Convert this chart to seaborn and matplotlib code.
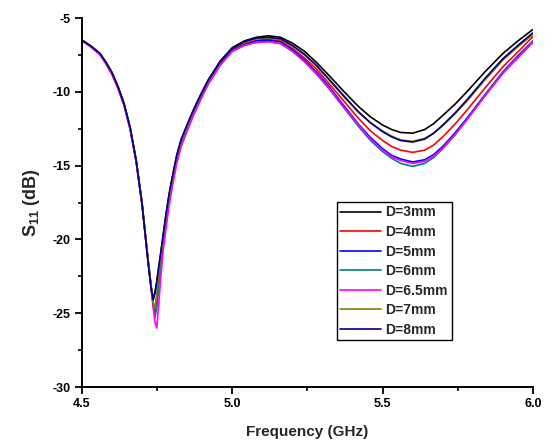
import numpy as np
import pandas as pd
import matplotlib
matplotlib.use("Agg")
import matplotlib.pyplot as plt
import seaborn as sns
from matplotlib.ticker import MultipleLocator

freq = [4.50, 4.53, 4.56, 4.58, 4.60, 4.62, 4.64, 4.66, 4.68,
        4.70, 4.71, 4.72, 4.73, 4.737, 4.743, 4.749, 4.755, 4.762,
        4.77, 4.78, 4.79, 4.80, 4.815, 4.83, 4.85, 4.87, 4.89,
        4.92, 4.96, 5.00, 5.04, 5.08, 5.12, 5.16, 5.20, 5.24,
        5.28, 5.32, 5.37, 5.42, 5.46, 5.50, 5.53, 5.56, 5.60,
        5.64, 5.67, 5.70, 5.74, 5.78, 5.84, 5.90, 5.95, 6.00]

s11_3mm = [-6.5, -6.9, -7.4, -8.0, -8.7, -9.65, -10.8, -12.4, -14.6,
           -17.6, -19.6, -21.5, -23.2, -24.0, -23.6, -22.9, -22.0, -21.0,
           -19.8, -18.3, -17.0, -15.9, -14.4, -13.3, -12.3, -11.3, -10.4,
           -9.2, -7.9, -7.0, -6.55, -6.3, -6.2, -6.3, -6.7, -7.25,
           -8.0, -8.85, -9.95, -11.0, -11.7, -12.25, -12.55, -12.75, -12.8,
           -12.55, -12.15, -11.6, -10.85, -10.0, -8.65, -7.4, -6.55, -5.77]
s11_4mm = [-6.5, -6.92, -7.45, -8.05, -8.75, -9.7, -10.85, -12.45, -14.65,
           -17.6, -19.5, -21.4, -23.2, -24.4, -25.1, -24.4, -23.0, -21.6,
           -20.2, -18.7, -17.3, -16.2, -14.6, -13.5, -12.45, -11.45, -10.55,
           -9.35, -8.05, -7.15, -6.75, -6.5, -6.45, -6.55, -7.05, -7.7,
           -8.45, -9.4, -10.6, -11.8, -12.65, -13.3, -13.7, -13.95, -14.1,
           -13.95, -13.6, -13.05, -12.2, -11.25, -9.75, -8.3, -7.3, -6.25]
s11_5mm = [-6.5, -6.92, -7.45, -8.05, -8.75, -9.7, -10.85, -12.45, -14.65,
           -17.6, -19.5, -21.4, -23.2, -24.3, -24.8, -24.0, -22.8, -21.5,
           -20.1, -18.6, -17.2, -16.1, -14.6, -13.5, -12.45, -11.5, -10.6,
           -9.4, -8.1, -7.2, -6.8, -6.55, -6.5, -6.62, -7.15, -7.85,
           -8.65, -9.6, -10.9, -12.2, -13.1, -13.85, -14.3, -14.55, -14.75,
           -14.6, -14.25, -13.7, -12.8, -11.8, -10.2, -8.65, -7.55, -6.55]
s11_6mm = [-6.5, -6.92, -7.45, -8.05, -8.75, -9.7, -10.85, -12.45, -14.65,
           -17.6, -19.5, -21.4, -23.2, -24.5, -25.3, -24.6, -23.2, -21.8,
           -20.3, -18.8, -17.4, -16.25, -14.7, -13.6, -12.55, -11.55, -10.65,
           -9.45, -8.15, -7.25, -6.85, -6.65, -6.6, -6.72, -7.25, -7.95,
           -8.8, -9.75, -11.05, -12.35, -13.3, -14.05, -14.5, -14.85, -15.05,
           -14.85, -14.45, -13.85, -12.95, -11.9, -10.25, -8.7, -7.6, -6.55]
s11_65mm = [-6.55, -6.97, -7.5, -8.12, -8.85, -9.8, -10.95, -12.55, -14.75,
            -17.7, -19.6, -21.5, -23.3, -24.6, -25.6, -26.0, -24.5, -22.6,
            -20.8, -19.2, -17.7, -16.5, -14.9, -13.7, -12.65, -11.65, -10.75,
            -9.5, -8.2, -7.25, -6.85, -6.65, -6.6, -6.72, -7.25, -7.95,
            -8.75, -9.7, -11.0, -12.25, -13.2, -13.95, -14.4, -14.65, -14.85,
            -14.7, -14.35, -13.8, -12.9, -11.9, -10.3, -8.75, -7.7, -6.65]
s11_7mm = [-6.5, -6.9, -7.4, -8.0, -8.7, -9.65, -10.8, -12.4, -14.6,
           -17.5, -19.5, -21.4, -23.2, -24.3, -24.7, -23.6, -22.4, -21.2,
           -19.9, -18.4, -17.1, -16.0, -14.4, -13.3, -12.3, -11.3, -10.45,
           -9.25, -7.95, -7.05, -6.65, -6.4, -6.35, -6.45, -6.9, -7.5,
           -8.25, -9.15, -10.3, -11.4, -12.1, -12.65, -13.0, -13.25, -13.35,
           -13.15, -12.8, -12.3, -11.5, -10.65, -9.2, -7.85, -6.95, -6.1]
s11_8mm = [-6.5, -6.9, -7.4, -8.0, -8.7, -9.65, -10.8, -12.4, -14.6,
           -17.6, -19.6, -21.6, -23.3, -24.1, -23.6, -22.8, -21.9, -20.9,
           -19.7, -18.2, -16.9, -15.8, -14.3, -13.2, -12.2, -11.25, -10.4,
           -9.2, -7.95, -7.05, -6.6, -6.35, -6.3, -6.4, -6.85, -7.45,
           -8.2, -9.1, -10.25, -11.35, -12.1, -12.7, -13.05, -13.3, -13.4,
           -13.2, -12.8, -12.25, -11.45, -10.55, -9.1, -7.75, -6.85, -6.0]

labels = ["D=3mm", "D=4mm", "D=5mm", "D=6mm", "D=6.5mm", "D=7mm", "D=8mm"]
series = [s11_3mm, s11_4mm, s11_5mm, s11_6mm, s11_65mm, s11_7mm, s11_8mm]
colors = ["#000000", "#ff0000", "#0000ff", "#008080", "#ff00ff", "#808000", "#000080"]

x_ticks = [4.5, 5.0, 5.5, 6.0]
x_ticklabels = ["4.5", "5.0", "5.5", "6.0"]
y_ticks = [-30, -25, -20, -15, -10, -5]
y_ticklabels = ["-30", "-25", "-20", "-15", "-10", "-5"]

df = pd.concat([pd.DataFrame({"freq": freq, "s11": s, "D": lab}) for s, lab in zip(series, labels)],
               ignore_index=True)

sns.set_style("ticks")
plt.rcParams["font.family"] = ["Liberation Sans", "DejaVu Sans"]
plt.rcParams["font.weight"] = "bold"
plt.rcParams["mathtext.fontset"] = "custom"
plt.rcParams["mathtext.rm"] = "Liberation Sans:bold"
plt.rcParams["mathtext.bf"] = "Liberation Sans:bold"

fig = plt.figure(figsize=(5.5, 4.41), dpi=100)
ax = fig.add_axes([0.149, 0.1224, 0.820, 0.8366])

sns.lineplot(data=df, x="freq", y="s11", hue="D", hue_order=labels,
             palette=dict(zip(labels, colors)), linewidth=1.2, ax=ax, sort=False)

ax.set_xlim(4.5, 6.0)
ax.set_ylim(-30, -5)
ax.set_xticks(x_ticks)
ax.set_xticklabels(x_ticklabels, fontsize=9, fontweight="bold")
ax.set_yticks(y_ticks)
ax.set_yticklabels(y_ticklabels, fontsize=9, fontweight="bold")
ax.xaxis.set_minor_locator(MultipleLocator(0.25))
ax.yaxis.set_minor_locator(MultipleLocator(2.5))
ax.tick_params(which="major", direction="out", length=5, width=1.3, pad=3, colors="black")
ax.tick_params(which="minor", direction="out", length=3, width=1.2, colors="black")
sns.despine(ax=ax)
for sp in ["left", "bottom"]:
    ax.spines[sp].set_linewidth(1.4)
    ax.spines[sp].set_color("black")

ax.set_xlabel("Frequency (GHz)", fontsize=11, fontweight="bold", labelpad=11)
ax.set_ylabel(r"S$_{11}$ (dB)", fontsize=13, fontweight="bold", labelpad=8)

leg = ax.legend(loc="upper left", bbox_to_anchor=(337 / 550, 1 - 202 / 441),
                bbox_transform=fig.transFigure, frameon=True, fancybox=False,
                borderpad=0.25, borderaxespad=0, handlelength=2.9, handletextpad=0.35,
                labelspacing=0.4, prop={"family": "Liberation Sans", "weight": "bold", "size": 10})
leg.get_frame().set_edgecolor("black")
leg.get_frame().set_linewidth(1.0)
leg.get_frame().set_alpha(1)

fig.savefig("out.png", dpi=100)
